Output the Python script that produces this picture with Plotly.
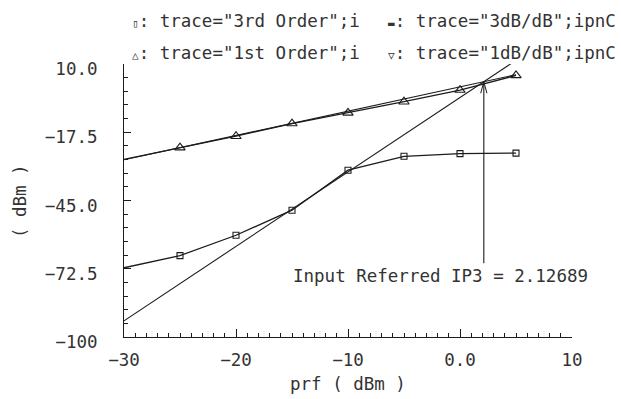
import plotly.graph_objects as go

# ---- data ----
prf = [-30, -25, -20, -15, -10, -5, 0, 5]
first_order = [-28.4, -23.7, -19.1, -14.0, -9.7, -5.2, -0.5, 5.4]
third_order = [-72.1, -67.2, -59.0, -48.9, -32.8, -27.2, -26.1, -25.9]
line_x = [-30, 5]
one_db_line = [-28.6, 5.7]
three_db_line = [-93.5, 11.5]
ip3_in = 2.12689
ip3_out = 2.85

x_tickvals = [-30, -20, -10, 0, 10]
x_ticktext = ["\u221230", "\u221220", "\u221210", "0.0", "10"]
y_tickvals = [10, -17.5, -45, -72.5, -100]
y_ticktext = ["10.0", "\u221217.5", "\u221245.0", "\u221272.5", "\u2212100"]

legend_markers = ["\u25AF", "\u25AC", "\u25B3", "\u25BD"]
legend_labels = ['trace="3rd Order";i', 'trace="3dB/dB";ipnC',
                 'trace="1st Order";i', 'trace="1dB/dB";ipnC']
ip3_label = "Input Referred IP3 = 2.12689"

INK = "#1c1c1c"
TXT = "#333333"
FONT = "DejaVu Sans Mono, DejaVu Sans, monospace"
FS = 17.5

fig = go.Figure()
fig.add_trace(go.Scatter(x=line_x, y=three_db_line, mode="lines",
                         line=dict(color=INK, width=1.1), name=legend_labels[1]))
fig.add_trace(go.Scatter(x=line_x, y=one_db_line, mode="lines",
                         line=dict(color=INK, width=1.1), name=legend_labels[3]))
fig.add_trace(go.Scatter(x=prf, y=first_order, mode="lines",
                         line=dict(color=INK, width=1.3), name=legend_labels[2]))
fig.add_trace(go.Scatter(x=prf[1:], y=first_order[1:], mode="markers",
                         marker=dict(symbol="triangle-up-open", size=9,
                                     color=INK, line=dict(width=1.1, color=INK)),
                         showlegend=False, cliponaxis=False))
fig.add_trace(go.Scatter(x=prf, y=third_order, mode="lines",
                         line=dict(color=INK, width=1.3), name=legend_labels[0]))
fig.add_trace(go.Scatter(x=prf[1:], y=third_order[1:], mode="markers",
                         marker=dict(symbol="square-open", size=6,
                                     color=INK, line=dict(width=1.1, color=INK)),
                         showlegend=False, cliponaxis=False))

annotations = []
# IP3 arrow (vertical) from the label up to the intercept point
annotations.append(dict(x=ip3_in, y=ip3_out, xref="x", yref="y", text="",
                        showarrow=True, arrowhead=0, ax=0, ay=183,
                        arrowwidth=1.1, arrowcolor=INK, standoff=0))
for dx in (-3.5, 3.5):
    annotations.append(dict(x=ip3_in, y=ip3_out, xref="x", yref="y", text="",
                            showarrow=True, arrowhead=0, ax=dx, ay=13,
                            arrowwidth=1, arrowcolor=INK, standoff=0))
annotations.append(dict(x=-1.7, y=-75.4, xref="x", yref="y", text=ip3_label,
                        showarrow=False, xanchor="center", yanchor="middle",
                        font=dict(family=FONT, size=FS, color=TXT)))

# legend as text
leg_pos = [(0.0134, 1.1575), (0.5848, 1.1575), (0.0134, 1.040), (0.5848, 1.040)]
for (px, py), mk, lab in zip(leg_pos, legend_markers, legend_labels):
    annotations.append(dict(x=px, y=py, xref="paper", yref="paper",
                            text="<span style='font-size:11px'>" + mk + "</span>: " + lab,
                            showarrow=False, xanchor="left", yanchor="middle",
                            font=dict(family=FONT, size=FS, color=TXT)))

# axis titles
annotations.append(dict(x=-0.232, y=0.498, xref="paper", yref="paper",
                        text="( dBm )", textangle=-90, showarrow=False,
                        xanchor="center", yanchor="middle",
                        font=dict(family=FONT, size=FS, color=TXT)))
annotations.append(dict(x=0.5, y=-0.172, xref="paper", yref="paper",
                        text="prf ( dBm )", showarrow=False,
                        xanchor="center", yanchor="middle",
                        font=dict(family=FONT, size=FS, color=TXT)))

fig.update_layout(
    width=621, height=399,
    margin=dict(l=124, r=49, t=64, b=62, pad=0),
    paper_bgcolor="white", plot_bgcolor="white",
    showlegend=False,
    font=dict(family=FONT, size=FS, color=TXT),
    annotations=annotations,
)
fig.update_xaxes(range=[-30, 10], showgrid=False, zeroline=False,
                 showline=True, linecolor=INK, linewidth=1,
                 tickmode="array", tickvals=x_tickvals, ticktext=x_ticktext,
                 ticks="inside", ticklen=8, tickcolor=INK, tickwidth=1,
                 ticklabelstandoff=7,
                 minor=dict(tickmode="linear", tick0=-30, dtick=1, ticks="inside",
                            ticklen=4, tickcolor=INK, showgrid=False))
fig.update_yaxes(range=[-100, 10], showgrid=False, zeroline=False,
                 showline=True, linecolor=INK, linewidth=1,
                 tickmode="array", tickvals=y_tickvals, ticktext=y_ticktext,
                 ticks="inside", ticklen=7, tickcolor=INK, tickwidth=1,
                 ticklabelstandoff=22, ticklabelshift=5,
                 minor=dict(tickmode="linear", tick0=10, dtick=5.5, ticks="inside",
                            ticklen=4, tickcolor=INK, showgrid=False))

fig.write_html("out.html")
